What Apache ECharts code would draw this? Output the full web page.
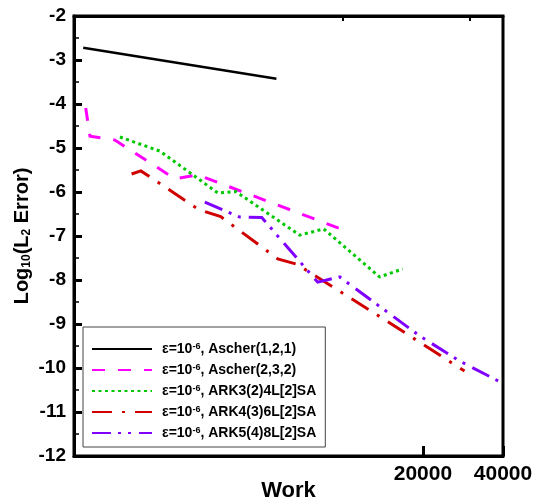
<!DOCTYPE html>
<html>
<head>
<meta charset="utf-8">
<script src="https://cdn.jsdelivr.net/npm/echarts@6/dist/echarts.min.js"></script>
<style>html,body{margin:0;padding:0;background:#fff}#c{width:536px;height:499px}</style>
</head>
<body>
<div id="c"></div>
<script>
// ---- data ----
const seriesNames = ['Ascher(1,2,1)', 'Ascher(2,3,2)', 'ARK3(2)4L[2]SA', 'ARK4(3)6L[2]SA', 'ARK5(4)8L[2]SA'];
const workAscher121 = [1058, 5632];
const errAscher121 = [-2.72, -3.425];
const workAscher232 = [1081, 1122, 1392, 2339, 2853, 10342];
const errAscher232 = [-4.09, -4.73, -4.82, -5.70, -5.61, -6.89];
const workARK3 = [1454, 2054, 3391, 3962, 6888, 8477, 13753, 16778];
const errARK3 = [-4.75, -5.07, -6.02, -5.99, -6.98, -6.84, -7.93, -7.75];
const workARK4 = [1608, 1743, 2877, 3479, 5695, 6713, 13518, 28672];
const errARK4 = [-5.59, -5.52, -6.40, -6.56, -7.52, -7.64, -8.80, -10.07];
const workARK5 = [3030, 4102, 4960, 8049, 9734, 19441, 27458, 40000];
const errARK5 = [-6.23, -6.57, -6.58, -8.05, -7.93, -9.27, -9.84, -10.35];
const xLabelValues = [20000, 40000];
const xMajorTicks = [20000, 40000];
const xMinorTicks = [10000, 30000];

const zip = (a, b) => a.map((v, i) => [v, b[i]]);
const works = [workAscher121, workAscher232, workARK3, workARK4, workARK5];
const errs = [errAscher121, errAscher232, errARK3, errARK4, errARK5];
const colors = ['#000000', '#ff00ff', '#00c800', '#d00000', '#8000ff'];
const dashes = ['solid', [13, 13], [3, 3.5], [20, 10, 3, 10], [19, 7, 3, 7, 3, 8]];
const widths = [2.5, 3, 3, 3, 3];

const font = 'Liberation Sans, Arial, sans-serif';
const chart = echarts.init(document.getElementById('c'), null, {renderer: 'canvas'});

const xBase = {
  type: 'log', min: 977, max: 40000,
  axisLine: {show: true, lineStyle: {color: '#000', width: 3}},
  splitLine: {show: false}, minorTick: {show: false}
};

chart.setOption({
  animation: false,
  backgroundColor: '#fff',
  grid: {left: 74, right: 33, top: 16, bottom: 43, containLabel: false, outerBoundsMode: 'none',
    show: true, borderColor: '#000', borderWidth: 3, backgroundColor: 'transparent'},
  xAxis: [
    Object.assign({}, xBase, {
      name: 'Work', nameLocation: 'middle', nameGap: 24, nameMoveOverlap: false,
      nameTextStyle: {fontFamily: font, fontWeight: 'bold', fontSize: 22, color: '#000'},
      axisTick: {show: true, inside: true, length: 10, lineStyle: {color: '#000', width: 3}, customValues: xMajorTicks},
      axisLabel: {show: true, customValues: xLabelValues, fontFamily: font, fontWeight: 'bold', fontSize: 21, color: '#000', margin: 8,
        formatter: v => String(Math.round(v))}
    }),
    Object.assign({}, xBase, {
      axisTick: {show: true, inside: true, length: 5, lineStyle: {color: '#000', width: 2}, customValues: xMinorTicks},
      axisLabel: {show: false}
    })
  ],
  yAxis: {
    type: 'value', min: -12, max: -2, interval: 1,
    name: '{t|Log}{s|10}{t|(L}{s|2}{t| Error)}', nameLocation: 'middle', nameGap: 41, nameRotate: 90, nameMoveOverlap: false,
    nameTextStyle: {color: '#000', rich: {
      t: {fontFamily: font, fontWeight: 'bold', fontSize: 20, color: '#000', lineHeight: 22},
      s: {fontFamily: font, fontWeight: 'bold', fontSize: 12, color: '#000', verticalAlign: 'bottom', lineHeight: 14, padding: [8, 0, 0, 0]}
    }},
    axisLine: {show: true, lineStyle: {color: '#000', width: 3}},
    axisTick: {show: true, inside: true, length: 8, lineStyle: {color: '#000', width: 3}},
    minorTick: {show: true, splitNumber: 2, length: 5, lineStyle: {color: '#000', width: 1.5}},
    splitLine: {show: false},
    axisLabel: {fontFamily: font, fontWeight: 'bold', fontSize: 19, color: '#000', margin: 8}
  },
  legend: {
    orient: 'vertical', left: 83, top: 327,
    backgroundColor: '#fff', borderColor: '#444', borderWidth: 1,
    padding: [15, 9, 7, 8], itemGap: 7, itemWidth: 60, itemHeight: 14,
    itemStyle: {opacity: 0},
    data: seriesNames,
    formatter: n => '{t|ε=10}{s|-6}{t|, ' + n + '}',
    textStyle: {padding: [0, 0, 0, 5], rich: {
      t: {fontFamily: font, fontWeight: 'bold', fontSize: 14, color: '#000', lineHeight: 14},
      s: {fontFamily: font, fontWeight: 'bold', fontSize: 9, color: '#000', verticalAlign: 'top', lineHeight: 8}
    }}
  },
  series: seriesNames.map((n, i) => ({
    name: n, type: 'line', xAxisIndex: 0, symbol: 'none', showSymbol: false,
    data: zip(works[i], errs[i]),
    lineStyle: {color: colors[i], width: widths[i], type: dashes[i], cap: 'butt', join: 'miter'},
    itemStyle: {color: colors[i]}, clip: true
  }))
});
</script>
</body>
</html>
